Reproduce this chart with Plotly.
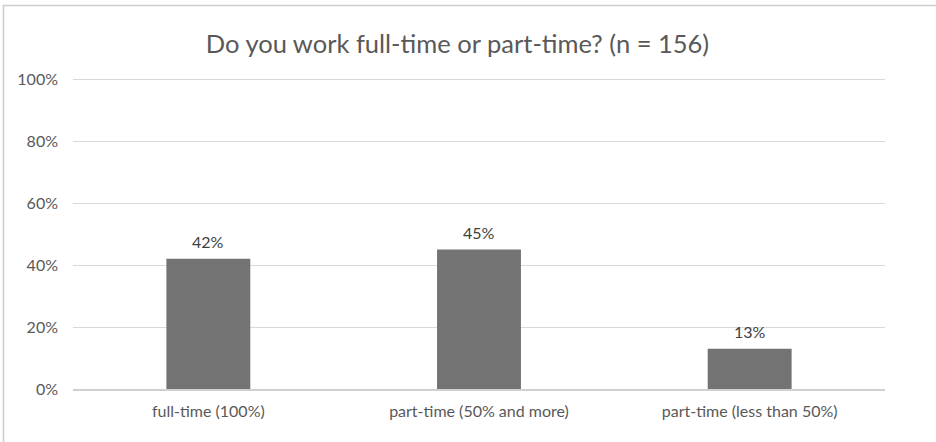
import plotly.graph_objects as go

categories = ["full-time (100%)", "part-time (50% and more)", "part-time (less than 50%)"]
values = [0.42, 0.45, 0.13]
labels = ["42%", "45%", "13%"]
title = "Do you work full-time or part-time? (n = 156)"

W, H = 936, 442
YMAX = 1.01
L, R, B = 73, 51, 53
T = int(round(H - B - 310 * YMAX))
pw, ph = W - L - R, H - T - B
FONT = "Lato, Open Sans, sans-serif"

fig = go.Figure()
fig.add_trace(go.Bar(
    x=categories, y=values,
    marker=dict(color="#737373", line=dict(width=0)),
    cliponaxis=False,
))

for c, v, t in zip(categories, values, labels):
    fig.add_annotation(x=c, y=v, text=t, showarrow=False, yanchor="bottom", yshift=6,
                       font=dict(family=FONT, size=16, color="#404040"))

def px_x(p):
    return (p - L) / pw

def px_y(p):
    return (H - B - p) / ph

fig.add_shape(type="rect", xref="paper", yref="paper",
              x0=px_x(3.5), x1=px_x(960), y0=px_y(5.5), y1=px_y(470),
              line=dict(color="#cccccc", width=1.5), fillcolor="rgba(0,0,0,0)", layer="above")

fig.update_layout(
    width=W, height=H,
    margin=dict(l=L, r=R, t=T, b=B),
    paper_bgcolor="white", plot_bgcolor="white",
    title=dict(text=title, x=457.5 / W, xanchor="center", y=1 - 44 / H, yanchor="middle",
               font=dict(family=FONT, size=25.5, color="#595959")),
    bargap=0.69,
    showlegend=False,
    font=dict(family=FONT, size=16, color="#595959"),
    yaxis=dict(range=[0, YMAX], tickvals=[0, 0.2, 0.4, 0.6, 0.8, 1.0], tickformat=".0%",
               showgrid=True, gridcolor="#d9d9d9", gridwidth=1, zeroline=False,
               showline=False, ticks="", ticklabelstandoff=14,
               tickfont=dict(family=FONT, size=16, color="#595959")),
    xaxis=dict(showline=True, linecolor="#d0d0d0", linewidth=1.5, ticks="", ticklabelstandoff=7,
               tickfont=dict(family=FONT, size=16, color="#595959")),
)

fig.write_html("out.html", config={"displayModeBar": False},
               post_script="document.body.style.margin='0';")
